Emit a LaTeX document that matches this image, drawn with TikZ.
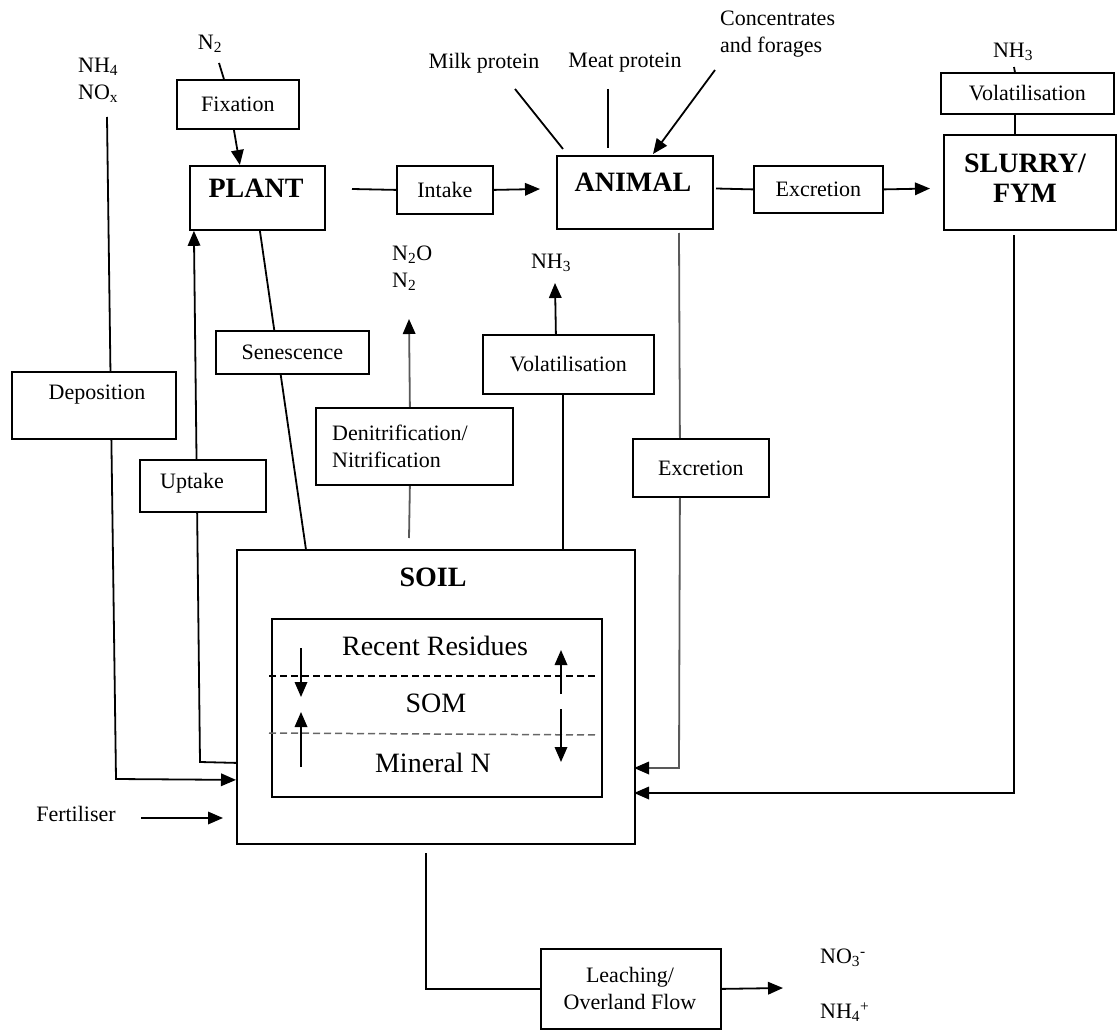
\documentclass[tikz,border=0pt]{standalone}
\usepackage{fontspec}
\setmainfont{Liberation Serif}
\usetikzlibrary{arrows.meta,backgrounds}
\begin{document}
\begin{tikzpicture}[x=1pt,y=-1pt,
  box/.style={draw, line width=1.8pt, fill=white, inner sep=0pt, anchor=north west},
  txt/.style={font=\fontsize{22}{27}\selectfont, inner sep=0pt},
  big/.style={font=\fontsize{28}{30}\selectfont\bfseries, inner sep=0pt},
  mid/.style={font=\fontsize{28}{30}\selectfont, inner sep=0pt},
  ln/.style={line width=1.8pt},
  gln/.style={line width=1.8pt, draw=black!65},
  arr/.style={line width=1.8pt, -{Triangle[length=15pt,width=12.5pt]}},
  garr/.style={line width=1.8pt, draw=black!65, -{Triangle[length=15pt,width=12.5pt,color=black]}},
  dsh/.style={line width=1.5pt, dash pattern=on 7pt off 4pt},
]
\useasboundingbox (0,0) rectangle (1117,1030);

% ---------- top row ----------
\node[txt] (n2) at (210,44) {N\textsubscript{2}};
\node[box,txt,minimum width=122pt,minimum height=49pt] (fix) at (176,79) {Fixation};
\node[box,minimum width=135pt,minimum height=64pt] (plant) at (189,165) {};
\node[big] (plantt) at (256,188) {PLANT};
\node[txt,align=left,anchor=west] (depsrc) at (78,80) {NH\textsubscript{4}\\NO\textsubscript{x}};
\node[box,txt,minimum width=96pt,minimum height=48pt] (intake) at (396,165) {Intake};
\node[box,minimum width=156pt,minimum height=73pt] (animal) at (556,155) {};
\node[big] (animalt) at (633,182) {ANIMAL};
\node[txt] (milk) at (484,63) {Milk protein};
\node[txt] (meat) at (625,63) {Meat protein};
\node[txt,align=left,anchor=west] (conc) at (720,34) {Concentrates\\and forages};
\node[box,txt,minimum width=129pt,minimum height=47pt] (exc1) at (753,165) {Excretion};
\node[box,minimum width=172pt,minimum height=95pt] (slurry) at (943,134) {};
\node[big,align=center] (slurryt) at (1025,178) {SLURRY/\\FYM};
\node[box,txt,minimum width=173pt,minimum height=41pt] (vol1) at (940,72) {Volatilisation};
\node[txt] (nh3a) at (1013,52) {NH\textsubscript{3}};

% ---------- middle ----------
\node[box,minimum width=164pt,minimum height=67pt] (dep) at (11,371) {};
\node[txt] (dept) at (97,395) {Deposition};
\node[box,txt,minimum width=153pt,minimum height=43pt] (sen) at (215,330) {Senescence};
\node[box,minimum width=126pt,minimum height=52pt] (upt) at (139,459) {};
\node[txt] (uptt) at (192,483) {Uptake};
\node[box,minimum width=197pt,minimum height=77pt] (den) at (315,407) {};
\node[txt,align=left,anchor=west] (dent) at (332,446) {Denitrification/\\Nitrification};
\node[txt,align=left,anchor=west] (n2o) at (392,268) {N\textsubscript{2}O\\N\textsubscript{2}};
\node[box,txt,minimum width=171pt,minimum height=59pt] (vol2) at (482,334) {Volatilisation};
\node[txt] (nh3b) at (551,263) {NH\textsubscript{3}};
\node[box,txt,minimum width=136pt,minimum height=58pt] (exc2) at (632,438) {Excretion};

% ---------- soil ----------
\node[box,minimum width=398pt,minimum height=294pt] (soil) at (236,549) {};
\node[big] (soilt) at (433,577) {SOIL};
\node[box,minimum width=330pt,minimum height=178pt] (inner) at (271,618) {};
\node[mid] (rr) at (435,646) {Recent Residues};
\node[mid] (som) at (436,703) {SOM};
\node[mid] (min) at (433,763) {Mineral N};
\node[txt] (fert) at (76,814) {Fertiliser};

% ---------- bottom ----------
\node[box,minimum width=180pt,minimum height=80pt] (leach) at (540,948) {};
\node[txt,align=center] (leacht) at (630,988) {Leaching/\\Overland Flow};
\node[txt,anchor=west] (no3) at (820,958) {NO\textsubscript{3}\textsuperscript{-}};
\node[txt,anchor=west] (nh4) at (820,1012) {NH\textsubscript{4}\textsuperscript{+}};

% free ends
\coordinate (n2e) at (219,63);
\coordinate (pi) at (352,189);
\coordinate (ai) at (540,189);
\coordinate (ae) at (716,188.5);
\coordinate (se) at (930,188.5);
\coordinate (nh3ae) at (1014,67);
\coordinate (m1) at (515,89);   \coordinate (m2) at (563,149);
\coordinate (mt1) at (608,89);  \coordinate (mt2) at (608,148);
\coordinate (c1) at (715,70);   \coordinate (c2) at (653,154);
\coordinate (a1) at (679,233);  \coordinate (a2) at (679,768);
\coordinate (a3) at (634,768);
\coordinate (s1) at (1014,235); \coordinate (s2) at (1014,793);
\coordinate (s3) at (634,793);
\coordinate (d1) at (409,538);  \coordinate (d2) at (409,319);
\coordinate (v1) at (555,283);
\coordinate (u1) at (200,762);
\coordinate (p1) at (107,117);  \coordinate (p2) at (116,779);
\coordinate (f1) at (141,818);  \coordinate (f2) at (223,818);
\coordinate (l1) at (426,853);  \coordinate (l2) at (783,988);

\begin{pgfonlayer}{background}
\draw[ln] (n2e) -- ([xshift=-14]fix.north);
\draw[arr] ([xshift=-4]fix.south) -- ([xshift=-17.5]plant.north);
\draw[ln] (pi) -- (intake.west);
\draw[arr] (intake.east) -- (ai);
\draw[ln] (ae) -- (exc1.west);
\draw[arr] (exc1.east) -- (se);
\draw[ln] (nh3ae) -- ([xshift=-12.5]vol1.north);
\draw[ln] ([xshift=-12.5]vol1.south) -- ([xshift=-15]slurry.north);
\draw[ln] (m1) -- (m2);
\draw[ln] (mt1) -- (mt2);
\draw[arr] (c1) -- (c2);
\draw[gln] (a1) -- ([xshift=-21]exc2.north);
\draw[gln] (d1) -- ([xshift=-4.5]den.south);
\draw[garr] ([xshift=-4.5]den.north) -- (d2);
\draw[ln] ([xshift=127]soil.north) -- ([xshift=-5.5]vol2.south);
\draw[arr] ([xshift=-12.5]vol2.north) -- (v1);
\draw[ln] ([xshift=2.5]plant.south) -- ([xshift=-130]soil.north);
\draw[arr] ([yshift=-66]soil.west) -- (u1) -- ([xshift=-63.5]plant.south);
\draw[arr] (p1) -- (p2) -- ([yshift=-83]soil.west);
\draw[arr] (f1) -- (f2);
\draw[ln] (l1) |- (leach.west);
\draw[arr] (leach.east) -- (l2);
\end{pgfonlayer}

% connectors ending on the soil box edge (drawn above it)
\draw[garr] ([xshift=-21]exc2.south) -- (a2) -- (a3);
\draw[arr] (s1) -- (s2) -- (s3);

% inner soil arrows and layers
\draw[dsh] (269,676) -- (598,676);
\draw[dsh,draw=black!60] (269,733) -- (598,735);
\draw[arr] (301,648) -- (301,697);
\draw[arr] (301,767) -- (301,712);
\draw[arr] (561,694) -- (561,650);
\draw[arr] (561,709) -- (561,762);
\end{tikzpicture}
\end{document}
